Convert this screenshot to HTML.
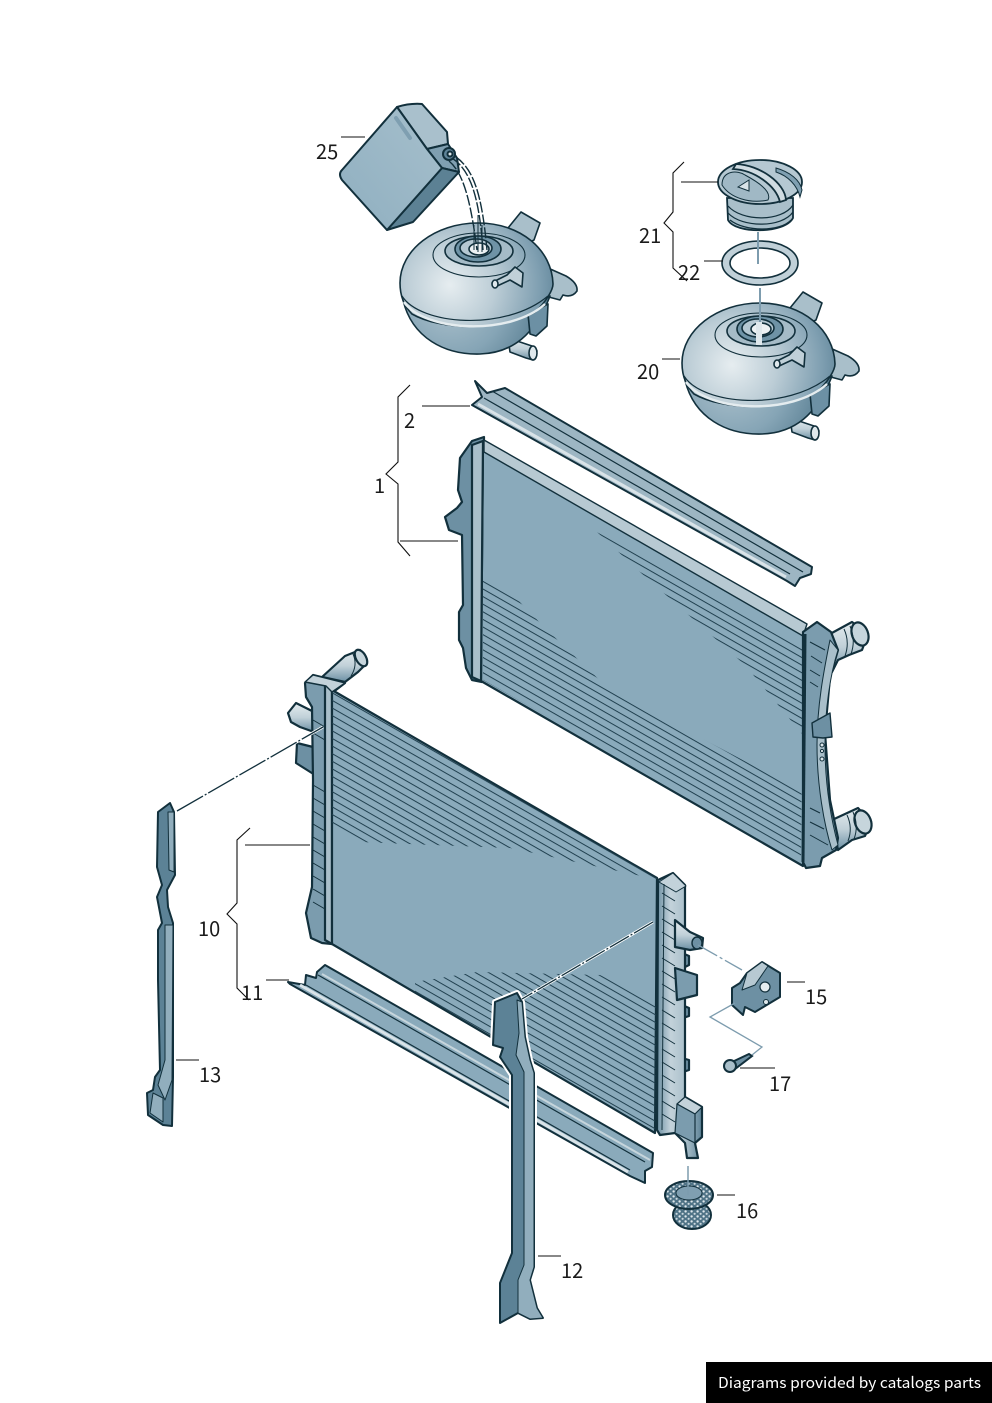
<!DOCTYPE html>
<html><head><meta charset="utf-8"><style>
html,body{margin:0;padding:0;background:#fff;width:992px;height:1403px;overflow:hidden}
svg{display:block}
text{font-family:"Noto Sans CJK JP","DejaVu Sans",sans-serif;font-size:20px;fill:#1a1a1a}
</style></head><body>
<svg width="992" height="1403" viewBox="0 0 992 1403" xmlns="http://www.w3.org/2000/svg">
<defs>
<radialGradient id="dome" gradientUnits="userSpaceOnUse" cx="450" cy="285" r="112">
<stop offset="0" stop-color="#e6edf0"/><stop offset=".4" stop-color="#bccdd6"/><stop offset=".8" stop-color="#7f9fb1"/><stop offset="1" stop-color="#5f8499"/></radialGradient>
<radialGradient id="bowl" gradientUnits="userSpaceOnUse" cx="450" cy="300" r="100"><stop offset="0" stop-color="#aec3ce"/><stop offset=".55" stop-color="#86a5b6"/><stop offset="1" stop-color="#557b8f"/></radialGradient>
<linearGradient id="pipe" x1="0" y1="0" x2="0" y2="1"><stop offset="0" stop-color="#e4ecef"/><stop offset=".5" stop-color="#c0d0d8"/><stop offset="1" stop-color="#6c90a4"/></linearGradient>
<linearGradient id="tank" x1="0" y1="0" x2="1" y2="0"><stop offset="0" stop-color="#6d90a3"/><stop offset=".3" stop-color="#c3d2da"/><stop offset=".65" stop-color="#a9bfca"/><stop offset="1" stop-color="#5d8397"/></linearGradient>
<linearGradient id="bottle" x1="0" y1="1" x2="1" y2="0"><stop offset="0" stop-color="#8fafc0"/><stop offset="1" stop-color="#a6bfcc"/></linearGradient>
<pattern id="fin" patternUnits="userSpaceOnUse" width="30" height="6.6" patternTransform="rotate(29.8)"><rect width="30" height="1" fill="#1f3f4e"/></pattern>
<pattern id="speck" patternUnits="userSpaceOnUse" width="6" height="5"><rect width="6" height="5" fill="#4f7386"/><circle cx="1.6" cy="1.4" r="1.2" fill="#dfe8ec"/><circle cx="4.6" cy="3.8" r="1.1" fill="#cbd8df"/></pattern>
<clipPath id="up"><polygon points="483,447 803,630 801,860 483,680"/></clipPath>
<clipPath id="lo"><polygon points="332,690 657,878 655,1133 332,944"/></clipPath>
<g id="tankpart" stroke="#12303c" stroke-width="1.6" stroke-linejoin="round">
<path d="M508,228 L521,212 L540,223 L534,240 L522,246Z" fill="#a9bfca"/>
<path d="M508,338 L532,346 L537,351 L533,360 L526,358 L510,352Z" fill="url(#pipe)"/>
<ellipse cx="533" cy="353" rx="4" ry="7" fill="#dfe8ec"/>
<path d="M548,268 L566,276 Q578,283 577,291 Q572,298 563,295 L560,300 L545,296Z" fill="#a9bfca"/>
<path d="M403,300 C412,338 445,355 480,354 C512,353 535,335 550,296 L500,320Z" fill="url(#bowl)"/>
<path d="M528,314 L548,304 L547,326 L536,336 L530,334Z" fill="#6c90a4"/>
<path d="M400,283 C400,250 435,223 478,223 C521,223 552,250 553,284 C553,290 546,302 535,312 C500,332 440,330 412,314 C404,306 400,296 400,283Z" fill="url(#dome)"/>
<path d="M402,296 C420,325 505,332 548,296" fill="none" stroke="#12303c" stroke-width="1.2"/>
<path d="M404,302 C425,332 510,336 545,304" fill="none" stroke="#e4ecef" stroke-width="2.4"/>
<ellipse cx="479" cy="255" rx="46" ry="22" fill="none" stroke-width="1.1"/>
<ellipse cx="479" cy="251" rx="34" ry="15" fill="#a5bbc7"/>
<ellipse cx="478" cy="249" rx="23" ry="13" fill="#6f93a6"/>
<ellipse cx="476" cy="248" rx="16" ry="9" fill="#b5c8d2"/>
<ellipse cx="479" cy="249" rx="10" ry="6" fill="#edf2f4"/>
<path d="M493,282 L507,275 L515,267 L523,273 L522,287 L510,280 L495,287Z" fill="#c0d0d8"/>
<ellipse cx="495" cy="284" rx="3" ry="4" fill="#dfe8ec"/>
</g>
</defs>

<!-- bottle 25 -->
<g stroke="#12303c" stroke-width="2" stroke-linejoin="round">
<path d="M397,107 Q410,103 422,104 L447,132 L448,144 L427,149 Z" fill="#a9c0cc"/>
<path d="M427,149 L448,144 L457,158 L459,172 L442,168Z" fill="#7f9fb1"/>
<path d="M442,168 L459,172 L413,222 L387,230Z" fill="#5c8194"/>
<path d="M397,107 L427,149 L442,168 L387,230 L342,180 Q338,174 342,170Z" fill="url(#bottle)"/>
<path d="M396,118 L410,138" stroke="#7f9fb1" stroke-width="4" stroke-linecap="round" fill="none"/>
<ellipse cx="449" cy="154" rx="6" ry="6" fill="#5f8499"/><ellipse cx="450" cy="154" rx="2.5" ry="2.5" fill="#dfe8ec"/>
</g>

<use href="#tankpart"/>
<use href="#tankpart" transform="translate(282,80)"/>

<!-- stream -->
<g fill="none" stroke="#12303c" stroke-width="1.4" stroke-dasharray="11 2">
<path d="M452,158 C470,170 479,195 483,250"/>
<path d="M449,161 C462,172 470,195 477,250"/>
<path d="M456,157 C474,170 482,195 487,250"/>
</g>
<g stroke="#12303c" stroke-width="1"><path d="M474,225V250M478,215V252M482,225V252" fill="none"/></g>

<!-- cap 21 -->
<g stroke="#12303c" stroke-width="1.8">
<path d="M727,198 L728,220 C735,234 785,234 793,218 L793,198Z" fill="#a9bfca"/>
<path d="M728,206 C742,222 782,222 793,205M728,213 C742,228 782,228 793,212M730,220 C745,232 780,232 791,220" fill="none" stroke-width="1.2"/>
<ellipse cx="760" cy="182" rx="42" ry="22" fill="#b5c8d2"/>
<path d="M736,164 C760,165 785,183 786,200 L780,202 C776,186 755,170 733,169Z" fill="#d0dce2"/>
<path d="M722,185 C722,170 738,170 745,175 C760,183 772,192 768,200 C750,204 730,198 722,185Z" fill="#a0b8c5" stroke-width="1"/>
<path d="M738,187 L749,180 L749,191Z" fill="#d9e3e8" stroke-width="1"/>
<path d="M776,168 C790,172 800,180 802,190 L800,197 C797,185 788,176 776,172Z" fill="#7f9fb1" stroke-width="1"/>
<path fill-rule="evenodd" d="M722,263 a38,22 0 1,0 76,0 a38,22 0 1,0 -76,0Z M730,263 a30,15 0 1,0 60,0 a30,15 0 1,0 -60,0Z" fill="#c0d0d8" stroke-width="1.6"/>
</g>
<path d="M758,232V264M760,288V322" stroke="#7d9cae" stroke-width="2"/>
<path d="M759,322V345" stroke="#dfe8ec" stroke-width="6"/>

<!-- seal 2 -->
<g stroke="#12303c" stroke-width="2" stroke-linejoin="round">
<polygon points="475,381 487,393 505,388 812,567 811,574 800,578 795,586 787,581 472,405 482,397" fill="#9db6c3"/>
<path d="M484,398 L790,574 M492,391 L803,572" fill="none" stroke-width="1.2"/>
<path d="M478,404 L786,577" stroke="#d9e3e8" stroke-width="3" fill="none"/>
</g>

<!-- upper radiator -->
<g stroke="#12303c" stroke-width="2.2" stroke-linejoin="round">
<path d="M460,458 L472,441 L484,437 L482,682 L472,680 L466,668 L463,648 L459,640 L459,612 L463,605 L462,535 L449,530 L445,517 L457,508 L462,502 L458,490Z" fill="#6d90a3"/>
<polygon points="483,441 805,626 803,866 481,681" fill="#8aaabb"/>
<path d="M472,445 L483,441 L481,681 L472,677Z" fill="#a9bfca"/>
<polygon points="484,440 807,624 803,636 484,452" fill="#b7c9d2" stroke-width="1.4"/>
</g>
<g clip-path="url(#up)">
<polygon points="483,578 515,597 545,628 610,690 720,748 803,792 803,865 483,682" fill="url(#fin)"/>
<polygon points="597,532 803,648 803,735 745,665 640,572" fill="url(#fin)"/>
</g>
<!-- upper radiator right tank -->
<g stroke="#12303c" stroke-width="2.2" stroke-linejoin="round">
<path d="M830,634 L852,622 L868,634 L862,650 L849,655 L838,660 L832,672Z" fill="url(#pipe)"/>
<ellipse cx="860" cy="634" rx="8" ry="12" fill="#c6d5dc" transform="rotate(-20 860 634)"/>
<path d="M850,626 Q856,640 851,654M844,629 Q850,642 845,656" fill="none" stroke-width="1"/>
<path d="M832,820 L858,808 L871,822 L865,836 L852,840 L838,850Z" fill="url(#pipe)"/>
<ellipse cx="863" cy="822" rx="8" ry="12" fill="#c6d5dc" transform="rotate(-20 863 822)"/>
<path d="M853,812 Q859,826 854,839M847,815 Q853,828 848,841" fill="none" stroke-width="1"/>
<path d="M803,632 L817,622 L831,632 L838,650 L830,677 L825,733 L830,800 L838,838 L836,850 L822,858 L820,866 L806,868 L803,862Z" fill="#7b9cae"/>
<path d="M830,640 C824,670 817,705 817,745 C817,785 824,825 832,850 L838,845 C830,815 825,780 825,745 C825,710 830,675 838,650Z" fill="#a9bfca" stroke-width="1"/>
<path d="M805,634 L803,862" stroke-width="3"/>
<path d="M810,642 L825,650M811,656 L822,663M810,670 L820,676M810,682 L818,687M810,808 L820,813M810,822 L824,829M810,835 L828,845" fill="none" stroke-width="1"/>
<path d="M812,723 L830,713 L832,737 L823,738 L813,737Z" fill="#6d90a3" stroke-width="1.4"/>
</g>
<g fill="#dfe8ec" stroke="#12303c"><circle cx="822" cy="745" r="2"/><circle cx="822" cy="751" r="1.6"/><circle cx="822" cy="759" r="2"/></g>

<!-- lower radiator -->
<g stroke="#12303c" stroke-width="2.2" stroke-linejoin="round">
<path d="M322,677 L345,656 L360,650 L367,663 L358,672 L345,682Z" fill="url(#pipe)"/>
<ellipse cx="361" cy="658" rx="5" ry="9" fill="#c6d5dc" transform="rotate(-30 361 658)"/>
<path d="M353,654 Q358,665 351,676" fill="none" stroke-width="1"/>
<path d="M288,713 L296,703 L316,713 L314,732 L300,727 L291,722Z" fill="url(#pipe)"/>
<path d="M297,743 L313,747 L315,775 L296,763Z" fill="#6d90a3"/>
<path d="M305,683 L313,675 L345,683 L332,693 L332,944 L322,943 L311,938 L306,913 L312,887 L313,780 L312,707 L306,697Z" fill="#7b9cae"/>
<path d="M325,684 L332,690 L332,944 L325,940Z" fill="#a9bfca"/>
<polygon points="332,690 657,878 655,1133 332,944" fill="#8aaabb"/>
<polygon points="305,682 313,675 345,683 332,692 326,686" fill="#c3d2da" stroke-width="1.4"/>
</g>
<g stroke="#12303c" stroke-width="1" fill="none"><path d="M313,720 L325,727M313,733 L325,740M313,785 L325,792M313,798 L325,805M313,811 L325,818M313,824 L325,831M313,837 L325,844M313,850 L325,857M313,863 L325,870M313,876 L325,883M313,889 L325,896M313,902 L325,909"/></g>
<g clip-path="url(#lo)">
<polygon points="332,690 660,880 510,848 360,842 332,826" fill="url(#fin)"/>
<polygon points="415,982 477,972 600,975 660,1003 660,1140 415,995" fill="url(#fin)"/>
</g>
<!-- lower right tank -->
<g stroke="#12303c" stroke-width="2.2" stroke-linejoin="round">
<path d="M682,953 L689,956 L689,965 L683,968Z M682,1005 L689,1008 L689,1016 L683,1018Z M682,1058 L689,1060 L689,1070 L683,1072Z" fill="#6d90a3"/>
<path d="M658,880 L673,873 L685,885 L685,1097 L702,1107 L702,1137 L695,1143 L698,1158 L687,1158 L685,1143 L675,1133 L660,1135 L657,1130Z" fill="url(#tank)"/>
<path d="M675,968 L697,975 L697,995 L677,1000Z" fill="#7b9cae"/>
<path d="M675,920 L690,932 L703,938 L702,948 L690,950 L675,947Z" fill="url(#pipe)"/>
<ellipse cx="697" cy="943" rx="5" ry="6" fill="#6d90a3" stroke-width="1.4"/>
<path d="M677,1104 L685,1097 L702,1107 L695,1114Z" fill="#c3d2da" stroke-width="1.2"/>
<path d="M677,1104 L695,1114 L695,1143 L675,1133Z" fill="#7b9cae" stroke-width="1.2"/>
<path d="M659,882 L676,892 L686,886 L673,873Z" fill="#c3d2da" stroke-width="1"/>
<path d="M664,884 L662,1130" stroke-width="1"/>
</g>
<g stroke="#12303c" stroke-width="1" fill="none"><path d="M662,893 L675,901M662,906 L675,914M662,919 L675,927M662,932 L675,940M662,945 L675,953M662,958 L675,966M662,971 L675,979M662,984 L675,992M662,997 L675,1005M662,1010 L675,1018M662,1023 L675,1031M662,1036 L675,1044M662,1049 L675,1057M662,1062 L675,1070M662,1075 L675,1083M662,1088 L675,1096M662,1101 L675,1109M662,1114 L675,1122"/></g>

<!-- seal 11 -->
<g stroke="#12303c" stroke-width="2" stroke-linejoin="round">
<polygon points="288,982 305,985 306,975 316,978 317,972 325,965 653,1153 652,1167 645,1171 645,1183 630,1176 290,984" fill="#8aaabb"/>
<path d="M306,985 L630,1170 M318,975 L645,1162" fill="none" stroke-width="1.2"/>
<path d="M300,985 L628,1172" stroke="#d9e3e8" stroke-width="3" fill="none"/>
<path d="M322,974 L650,1160" stroke="#c6d5dc" stroke-width="2" fill="none"/>
</g>

<!-- bracket 12 -->
<path d="M517,993 L495,1002 L493,1045 L503,1048 L500,1057 L512,1075 L512,1253 L500,1283 L500,1323 L518,1313 L530,1319 L543,1318 L537,1308 L530,1280 L534,1267 L534,1073 L530,1060 L525,1037 L522,1002Z" fill="#fff" stroke="#fff" stroke-width="6" stroke-linejoin="round"/>
<g stroke="#12303c" stroke-width="2" stroke-linejoin="round">
<path d="M517,993 L495,1002 L493,1045 L503,1048 L500,1057 L512,1075 L512,1253 L500,1283 L500,1323 L518,1313 L530,1319 L543,1318 L537,1308 L530,1280 L534,1267 L534,1073 L530,1060 L525,1037 L522,1002Z" fill="#5c8296"/>
<path d="M517,1000 L519,1033 L516,1055 L524,1072 L524,1265 L518,1280 L518,1313 L530,1319 L543,1318 L537,1308 L530,1280 L534,1267 L534,1073 L530,1060 L525,1037 L522,1002Z" fill="#91aebd" stroke-width="1"/>
</g>

<!-- bracket 13 -->
<g stroke="#12303c" stroke-width="2" stroke-linejoin="round">
<path d="M170,803 L158,812 L157,867 L162,885 L157,897 L162,923 L158,930 L158,980 L160,1070 L155,1077 L153,1090 L147,1093 L148,1115 L163,1125 L172,1126 L173,1077 L173,923 L168,907 L167,890 L175,875 L174,812Z" fill="#5c8296"/>
<path d="M168,812 L169,870 L174,872 L174,812Z M165,925 L165,1060 L158,1085 L165,1100 L172,1080 L173,925Z" fill="#91aebd" stroke-width="1"/>
<path d="M153,1093 L163,1098 L163,1122 L150,1113Z" fill="#91aebd" stroke-width="1"/>
</g>

<!-- 15 -->
<g stroke="#12303c" stroke-width="2" stroke-linejoin="round">
<path d="M762,962 L780,973 L780,997 L755,1012 L745,1007 L743,1015 L732,1005 L732,988 L740,983 L747,973Z" fill="#6d90a3"/>
<path d="M747,973 L762,962 L768,966 L755,985 L742,990Z" fill="#b7c9d2" stroke-width="1"/>
<circle cx="765" cy="987" r="5" fill="#e4ecef" stroke-width="1.2"/>
<circle cx="766" cy="1002" r="2.5" fill="#dfe8ec" stroke-width="1"/>
</g>
<!-- 17 -->
<g stroke="#12303c" stroke-width="2">
<path d="M732,1062 L749,1054 L752,1056 L735,1069Z" fill="#6d90a3"/>
<circle cx="730" cy="1066" r="6" fill="#a9bfca"/>
</g>
<!-- 16 -->
<g stroke="#12303c" stroke-width="2">
<ellipse cx="692" cy="1215" rx="19" ry="14" fill="url(#speck)"/>
<ellipse cx="689" cy="1195" rx="24" ry="14" fill="url(#speck)"/>
<ellipse cx="689" cy="1193" rx="13" ry="7" fill="#7f9fb1" stroke-width="1"/>
</g>

<!-- dashed connectors -->
<g fill="none">
<path d="M653,922 L522,999" stroke="#fff" stroke-width="3"/>
<path d="M653,922 L522,999" stroke="#12303c" stroke-width="1.3" stroke-dasharray="22 2 2 2"/>
<path d="M323,727 L270,757" stroke="#fff" stroke-width="3"/>
<path d="M177,811 L323,727" stroke="#12303c" stroke-width="1.3" stroke-dasharray="30 2 2 2"/>
<path d="M698,945 L742,970" stroke="#7d9cae" stroke-width="1.3" stroke-dasharray="22 3 3 3"/>
<path d="M735,1003 L710,1017 L762,1047 L752,1055" stroke="#7d9cae" stroke-width="1.3"/>
<path d="M688,1166 V1195" stroke="#7d9cae" stroke-width="1.5"/>
</g>

<!-- leaders -->
<g fill="none" stroke="#111" stroke-width="1.1">
<path d="M341,137H365M681,182H718M704,261H723M662,359H680M422,406H470M400,541H458M245,845H310M266,980H289M176,1060H199M538,1256H561M717,1195H735M740,1068H775M787,982H805"/>
<path d="M684,162 L673,173 V212 L664,223 L673,232 V268 L687,281"/>
<path d="M410,385 L398,397 V462 L386,474 L398,484 V542 L410,556"/>
<path d="M250,828 L237,840 V903 L227,914 L237,924 V988 L249,1000"/>
</g>

<text x="316" y="159">25</text>
<text x="639" y="243">21</text>
<text x="678" y="280">22</text>
<text x="637" y="379">20</text>
<text x="404" y="428">2</text>
<text x="374" y="493">1</text>
<text x="198" y="936">10</text>
<text x="241" y="1000">11</text>
<text x="199" y="1082">13</text>
<text x="561" y="1278">12</text>
<text x="736" y="1218">16</text>
<text x="769" y="1091">17</text>
<text x="805" y="1004">15</text>

<rect x="706" y="1362" width="286" height="41" fill="#000"/>
<text x="718" y="1388" style="font-size:15px;fill:#fff" textLength="263" lengthAdjust="spacingAndGlyphs">Diagrams provided by catalogs parts</text>
</svg>
</body></html>
